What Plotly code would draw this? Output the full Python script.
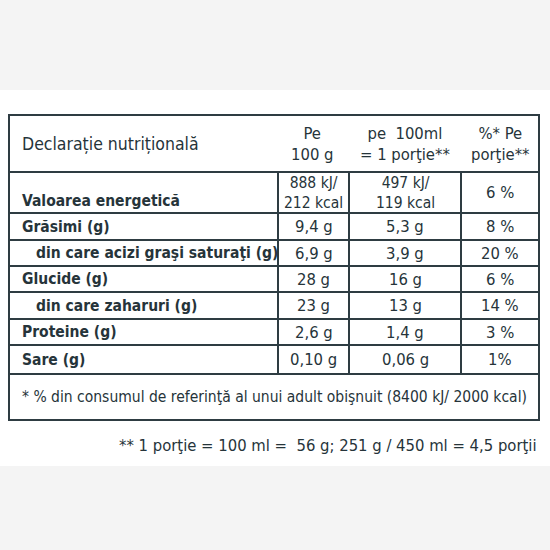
import plotly.graph_objects as go

# table content
header = ["Declarație nutrițională", "Pe<br>100 g", "pe  100ml<br>= 1 porţie**", "%* Pe<br>porţie**"]
nutrients = ["Valoarea energetică", "Grăsimi (g)", "din care acizi graşi saturaţi (g)",
             "Glucide (g)", "din care zaharuri (g)", "Proteine (g)", "Sare (g)"]
per_100g = ["888 kJ/<br>212 kcal", "9,4 g", "6,9 g", "28 g", "23 g", "2,6 g", "0,10 g"]
per_portion = ["497 kJ/<br>119 kcal", "5,3 g", "3,9 g", "16 g", "13 g", "1,4 g", "0,06 g"]
pct_portion = ["6 %", "8 %", "20 %", "6 %", "14 %", "3 %", "1%"]
is_sub = [False, False, True, False, True, False, False]
footnote1 = "* % din consumul de referinţă al unui adult obişnuit (8400 kJ/ 2000 kcal)"
footnote2 = "** 1 porţie = 100 ml =  56 g; 251 g / 450 ml = 4,5 porţii"

# geometry (pixels)
row_edges = [115, 172, 213, 240, 266, 292, 319, 345, 374, 420]
col_x = [9, 278, 349, 461, 539]
ink = "#26343a"
line = "#2e3c42"
FONT = "DejaVu Sans Condensed"

fig = go.Figure()
shapes = [
    dict(type="rect", x0=0, x1=550, y0=0, y1=90, fillcolor="#f4f4f4", line_width=0, layer="below"),
    dict(type="rect", x0=0, x1=550, y0=466, y1=550, fillcolor="#f4f4f4", line_width=0, layer="below"),
    dict(type="rect", x0=col_x[0], x1=col_x[-1], y0=row_edges[0], y1=row_edges[-1],
         line=dict(color=line, width=2)),
]
for y in row_edges[1:-1]:
    shapes.append(dict(type="line", x0=col_x[0], x1=col_x[-1], y0=y, y1=y, line=dict(color=line, width=2)))
for x in col_x[1:-1]:
    shapes.append(dict(type="line", x0=x, x1=x, y0=row_edges[1], y1=row_edges[-2], line=dict(color=line, width=2)))

ann = []
def txt(x, y, s, anchor="center", bold=False, size=16):
    ann.append(dict(x=x, y=y, text=f"<b>{s}</b>" if bold else s, showarrow=False, xanchor=anchor,
                    yanchor="middle", font=dict(family=FONT, size=size, color=ink), align="center"))

hy = (row_edges[0] + row_edges[1]) / 2
txt(20, hy, header[0], "left", size=17.5)
txt(312, hy, header[1], size=16.5)
txt(405, hy, header[2], size=16.5)
txt(500, hy, header[3], size=16.5)

for i, name in enumerate(nutrients):
    y = (row_edges[i + 1] + row_edges[i + 2]) / 2
    if i == 0:
        txt(20, y + 8, name, "left", bold=True, size=15.5)
    else:
        txt(34 if is_sub[i] else 20, y, name, "left", bold=True, size=15.5)
    size = 15.5 if "<br>" in per_100g[i] else 16.5
    txt((col_x[1] + col_x[2]) / 2, y, per_100g[i], size=size)
    txt((col_x[2] + col_x[3]) / 2, y, per_portion[i], size=size)
    txt((col_x[3] + col_x[4]) / 2, y, pct_portion[i], size=16.5)

txt(274, (row_edges[-2] + row_edges[-1]) / 2, footnote1, size=15.5)
txt(539, 445, footnote2, "right", size=16.5)

fig.update_layout(width=550, height=550, margin=dict(l=0, r=0, t=0, b=0),
                  plot_bgcolor="white", paper_bgcolor="white", showlegend=False,
                  shapes=shapes, annotations=ann)
fig.update_xaxes(range=[0, 550], visible=False, fixedrange=True)
fig.update_yaxes(range=[550, 0], visible=False, fixedrange=True)
fig.write_html("out.html", config={"displayModeBar": False},
               post_script="document.body.style.margin='0';")
